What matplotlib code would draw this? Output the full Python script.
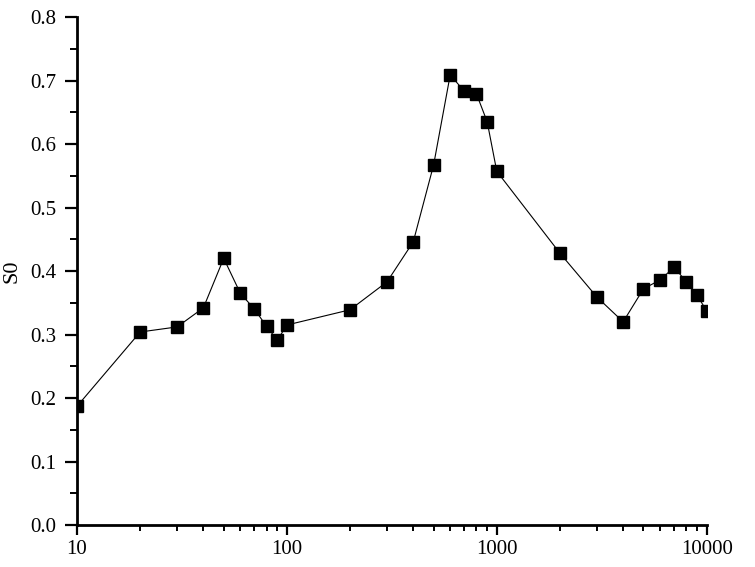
import matplotlib
import matplotlib.pyplot as plt
from matplotlib.ticker import LogLocator, FixedLocator, MultipleLocator, FuncFormatter

matplotlib.use("Agg")

# frequency points and S0 values
freq = [10, 20, 30, 40, 50, 60, 70, 80, 90, 100,
        200, 300, 400, 500, 600, 700, 800, 900, 1000,
        2000, 3000, 4000, 5000, 6000, 7000, 8000, 9000, 10000]
s0 = [0.187, 0.304, 0.312, 0.342, 0.420, 0.365, 0.340, 0.313, 0.291, 0.315,
      0.339, 0.383, 0.446, 0.567, 0.709, 0.683, 0.679, 0.635, 0.557,
      0.428, 0.359, 0.320, 0.372, 0.386, 0.406, 0.383, 0.362, 0.337]

x_ticks = [10, 100, 1000, 10000]
y_ticks = [0.0, 0.1, 0.2, 0.3, 0.4, 0.5, 0.6, 0.7, 0.8]

plt.rcParams["font.family"] = ["Liberation Serif", "DejaVu Serif"]

fig = plt.figure(figsize=(7.55, 5.67), dpi=100)
ax = fig.add_axes([0.102, 0.074, 0.834, 0.896])

ax.plot(freq, s0, color="black", lw=0.8, marker="s", ms=8.2,
        mfc="black", mec="black")

ax.set_xscale("log")
ax.set_xlim(10, 10000)
ax.set_ylim(0, 0.8)

ax.xaxis.set_major_locator(FixedLocator(x_ticks))
ax.xaxis.set_major_formatter(FuncFormatter(lambda v, p: "%d" % v))
ax.xaxis.set_minor_locator(LogLocator(base=10, subs=range(2, 10)))
ax.xaxis.set_minor_formatter(FuncFormatter(lambda v, p: ""))

ax.yaxis.set_major_locator(FixedLocator(y_ticks))
ax.yaxis.set_major_formatter(FuncFormatter(lambda v, p: "%.1f" % v))
ax.yaxis.set_minor_locator(MultipleLocator(0.05))

for side in ["top", "right"]:
    ax.spines[side].set_visible(False)
for side in ["left", "bottom"]:
    ax.spines[side].set_linewidth(2)

ax.tick_params(axis="both", which="major", direction="out", length=9,
               width=1.6, labelsize=15)
ax.tick_params(axis="x", which="major", length=7, pad=4)
ax.tick_params(axis="y", which="major", pad=6)
ax.tick_params(axis="both", which="minor", direction="out", length=5,
               width=1.4)
ax.tick_params(axis="x", which="minor", length=4)

ax.set_ylabel("S0", fontsize=16, labelpad=6)

plt.savefig("out.png", dpi=100)
